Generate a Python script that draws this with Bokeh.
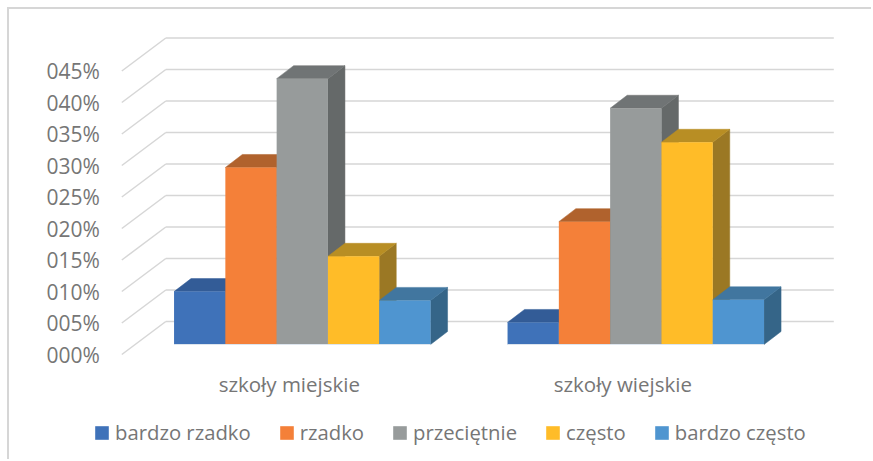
from bokeh.plotting import figure
from bokeh.embed import file_html
from bokeh.resources import INLINE
from bokeh.core.properties import value
from bokeh.models import Range1d, Legend, LegendItem

groups = ["szkoły miejskie", "szkoły wiejskie"]
series = ["bardzo rzadko", "rzadko", "przeciętnie", "często", "bardzo często"]
bardzo_rzadko = [8.4, 3.5]
rzadko = [28.1, 19.5]
przecietnie = [42.2, 37.5]
czesto = [14.0, 32.1]
bardzo_czesto = [7.0, 7.1]
values = [bardzo_rzadko, rzadko, przecietnie, czesto, bardzo_czesto]
tick_values = [0, 5, 10, 15, 20, 25, 30, 35, 40, 45]
tick_labels = ["000%", "005%", "010%", "015%", "020%", "025%", "030%", "035%", "040%", "045%"]

front = ["#3F72B9", "#F48039", "#979B9B", "#FFBC28", "#4F95D0"]
top = ["#335C97", "#B0622D", "#707475", "#B88E24", "#41769F"]
side = ["#2C5080", "#91501F", "#656969", "#9B7824", "#356588"]
TEXT = "#767676"
GRID = "#D6D6D6"
BASE = "#DDE5EE"
FONT = "Open Sans"

PX_X = 333.5
PX_Y = 6.3
bar_w = 51.3 / PX_X
bar_dx = 17 / PX_X
bar_dy = 13 / PX_Y
wall_dx = 44 / PX_X
wall_dy = 33 / PX_Y
shift = 10 / PX_Y

wall_l, wall_r = 1 - 180.5 / PX_X, 1 + 531.5 / PX_X
x0, x1 = 1 + (9.7 - 302.5) / PX_X, 1 + (873.7 - 302.5) / PX_X
y0, y1 = (344 - 461) / PX_Y, (344 - 9) / PX_Y

p = figure(width=864, height=452, output_backend="svg", toolbar_location=None,
           x_range=Range1d(x0, x1), y_range=Range1d(y0, y1),
           x_axis_location=None, y_axis_location=None, min_border=0)
p.margin = (7, 0, 0, 7)
p.grid.visible = False
p.outline_line_color = None
p.styles = {"border-top": f"2px solid {GRID}", "border-left": f"2px solid {GRID}"}

back_y = [v - shift + wall_dy for v in tick_values]
front_y = [v - shift for v in tick_values]
p.segment(x0=[wall_l] * len(tick_values), y0=front_y, x1=[wall_l + wall_dx] * len(tick_values), y1=back_y,
          line_color=GRID, line_width=1.5)
p.segment(x0=[wall_l + wall_dx] * len(tick_values), y0=back_y, x1=[wall_r] * len(tick_values), y1=back_y,
          line_color=GRID, line_width=1.5)

items = []
for i, (name, vals) in enumerate(zip(series, values)):
    lefts = [g + 1 - 2.5 * bar_w + i * bar_w for g in range(len(groups))]
    rights = [l + bar_w for l in lefts]
    p.patches(
        xs=[[r, r + bar_dx, r + bar_dx, r] for r in rights],
        ys=[[0, bar_dy, v + bar_dy, v] for v in vals],
        fill_color=side[i], line_color=side[i], line_width=0.5)
    p.patches(
        xs=[[l, l + bar_dx, r + bar_dx, r] for l, r in zip(lefts, rights)],
        ys=[[v, v + bar_dy, v + bar_dy, v] for v in vals],
        fill_color=top[i], line_color=top[i], line_width=0.5)
    r = p.quad(left=lefts, right=rights, bottom=0, top=vals, fill_color=front[i], line_color=None)
    items.append(LegendItem(label=name, renderers=[r]))

# pale edge under each bar group
starts = [g + 1 - 2.5 * bar_w for g in range(len(groups))]
ends = [g + 1 + 2.5 * bar_w for g in range(len(groups))]
p.segment(x0=starts, y0=[0] * len(groups), x1=ends, y1=[0] * len(groups), line_color=BASE, line_width=1)

# value labels, right-aligned left of the wall
p.text(x=[wall_l - 22 / PX_X] * len(tick_values), y=front_y, text=tick_labels,
       text_align="right", text_baseline="middle", text_color=TEXT,
       text_font=value(FONT), text_font_size=value("21px"))

# category labels
centers = [g + 1 - 13 / PX_X for g in range(len(groups))]
p.text(x=centers, y=[-39 / PX_Y] * len(groups), text=groups,
       text_align="center", text_baseline="middle", text_color=TEXT,
       text_font=value(FONT), text_font_size=value("20.5px"))

legend = Legend(items=items, orientation="horizontal", location=(84, 15),
                background_fill_alpha=0, border_line_color=None,
                label_text_font=FONT, label_text_font_size="20.3px", label_text_color=TEXT,
                glyph_width=17, glyph_height=17, label_standoff=5, spacing=27,
                padding=0, margin=0)
p.add_layout(legend, "center")

open("out.html", "w").write(file_html(p, INLINE))
